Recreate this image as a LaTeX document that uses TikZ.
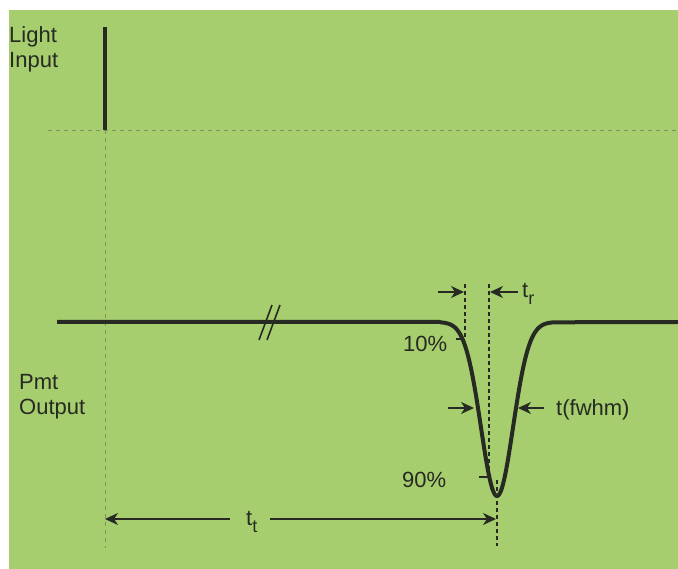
\documentclass[tikz,border=0pt]{standalone}
\usepackage{fontspec}
\setmainfont{Liberation Sans}
\usetikzlibrary{arrows.meta}
\definecolor{sheetgreen}{HTML}{A7CE6E}
\definecolor{inkgray}{HTML}{262A22}
\definecolor{guidegray}{HTML}{7A9262}
\newcommand{\subtxt}[1]{\raisebox{-7pt}{\fontsize{18}{18}\selectfont #1}}

\begin{document}
\begin{tikzpicture}[x=1pt,y=-1pt,
    lbl/.style={inner sep=0pt,anchor=base west,font=\fontsize{22}{25}\selectfont,text=inkgray},
    sig/.style={line width=4pt,inkgray,line join=round},
    guide/.style={line width=0.8pt,guidegray,dash pattern=on 4pt off 4pt},
    levelline/.style={line width=1.1pt,inkgray,dash pattern=on 4pt off 3pt},
    dim/.style={line width=1.6pt,inkgray,-{Stealth[length=13pt,width=12pt,inset=4pt]}}]
    \useasboundingbox (0,0) rectangle (678,569);
    \fill[sheetgreen] (9,10) rectangle (678,569);
    % light input
    \draw[guide] (48,130) -- (678,130);
    \draw[sig] (105,27) -- (105,130);
    \draw[guide] (105,130) -- (105,548);
    \node[lbl] (light) at (9,43) {Light};
    \node[lbl] (input) at (9,68) {Input};
    % pmt output and pulse
    \draw[sig] (57,322) -- (440,322)
      -- plot[domain=440:554,samples=115] (\x,{322+174*exp(-(\x-497)*(\x-497)/512)}) -- (678,322);
    \draw[line width=1.6pt,inkgray] (259,340) -- (272,305) (267,340) -- (280,305);
    \node[lbl] (pmt) at (19,390) {Pmt};
    \node[lbl] (output) at (19,415) {Output};
    % levels
    \draw[line width=1.2pt,inkgray] (456,339) -- (463,339) (479,477) -- (488,477);
    \node[lbl] (ten) at (403,352) {10\%};
    \node[lbl] (ninety) at (402,487) {90\%};
    \draw[levelline] (465,284) -- (465,339);
    \draw[levelline] (489,284) -- (489,477);
    \draw[levelline] (497,480) -- (497,546);
    % rise time
    \coordinate (trl) at (438,292);
    \coordinate (trlend) at (464,292);
    \coordinate (trr) at (518,292);
    \coordinate (trrend) at (490,292);
    \draw[dim] (trl) -- (trlend);
    \draw[dim] (trr) -- (trrend);
    \node[lbl] (tr) at (522,298) {t\subtxt{r}};
    % fwhm
    \coordinate (fwl) at (448,408);
    \coordinate (fwlend) at (474,408);
    \coordinate (fwr) at (544,408);
    \coordinate (fwrend) at (518,408);
    \draw[dim] (fwl) -- (fwlend);
    \draw[dim] (fwr) -- (fwrend);
    \node[lbl] (fwhm) at (556,416) {t(fwhm)};
    % transit time
    \node[lbl] (tt) at (246,525) {t\subtxt{t}};
    \coordinate (ttl) at (105,519);
    \coordinate (ttr) at (496,519);
    \draw[dim] (tt.west |- ttl) ++(-16,0) -- (ttl);
    \draw[dim] (tt.east |- ttr) ++(12,0) -- (ttr);
\end{tikzpicture}
\end{document}
